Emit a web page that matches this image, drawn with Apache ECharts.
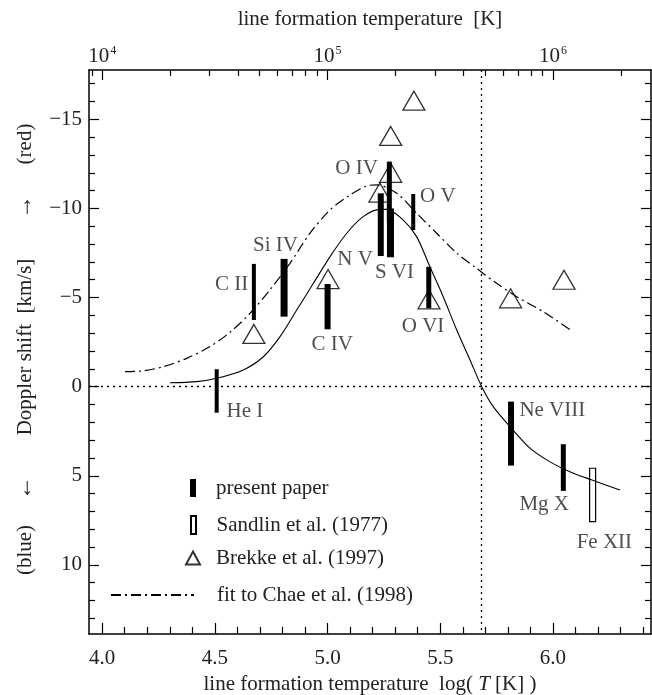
<!DOCTYPE html>
<html>
<head>
<meta charset="utf-8">
<script src="https://cdn.jsdelivr.net/npm/echarts@6/dist/echarts.min.js"></script>
<style>html,body{margin:0;padding:0;background:#fff}#main{width:652px;height:695px}</style>
</head>
<body>
<div id="main"></div>
<script>
// Doppler shift vs. line formation temperature
var chart = echarts.init(document.getElementById('main'));

// present paper (filled bars): log T, ends of the shift range [km/s]
var presentNames = ['He I', 'C II', 'Si IV', 'C IV', 'N V', 'O IV', 'S VI', 'O V', 'O VI', 'Ne VIII', 'Mg X'];
var presentLogT  = [4.508, 4.673, 4.807, 5.000, 5.236, 5.274, 5.279, 5.380, 5.449, 5.814, 6.046];
var presentTop   = [-0.98, -6.89, -7.17, -5.76, -10.85, -12.63, -10.0, -10.81, -6.73, 0.84, 3.23];
var presentBot   = [1.46, -3.74, -3.93, -3.22, -7.33, -9.2, -7.26, -8.79, -4.40, 4.43, 5.85];

// Sandlin et al. (1977), open bar
var sandlinNames = ['Fe XII'];
var sandlinLogT  = [6.176];
var sandlinTop   = [4.58];
var sandlinBot   = [7.57];

// Brekke et al. (1997), triangles
var brekkeLogT  = [4.673, 5.002, 5.232, 5.280, 5.280, 5.383, 5.450, 5.812, 6.049];
var brekkeShift = [-2.96, -6.04, -10.89, -12.0, -14.07, -16.05, -4.9, -4.96, -6.0];

// fit to Chae et al. (1998), dash-dot
var chaeLogT  = [4.101, 4.175, 4.271, 4.375, 4.478, 4.567, 4.656, 4.744, 4.833, 4.922, 5.011, 5.100, 5.173, 5.218, 5.307, 5.395, 5.484, 5.573, 5.661, 5.750, 5.839, 5.957, 6.083];
var chaeShift = [-0.84, -0.88, -1.12, -1.59, -2.25, -3.05, -4.12, -5.43, -6.92, -8.61, -9.92, -10.76, -11.26, -11.32, -10.85, -9.73, -8.61, -7.49, -6.64, -5.80, -5.05, -4.20, -3.14];

// solid curve through the present data
var fitLogT  = [4.301, 4.419, 4.508, 4.626, 4.715, 4.789, 4.863, 4.937, 5.011, 5.085, 5.158, 5.232, 5.262, 5.336, 5.395, 5.454, 5.513, 5.573, 5.632, 5.684, 5.735, 5.809, 5.898, 5.987, 6.075, 6.164, 6.297];
var fitShift = [-0.22, -0.28, -0.47, -0.94, -1.68, -2.81, -4.30, -5.80, -7.30, -8.61, -9.54, -9.95, -9.95, -9.35, -8.42, -6.73, -5.05, -3.18, -1.50, 0.0, 1.12, 2.24, 3.45, 4.22, 4.77, 5.20, 5.80];

// ion labels
var labelNames = ['O IV', 'O V', 'Si IV', 'C II', 'N V', 'S VI', 'C IV', 'O VI', 'He I', 'Ne VIII', 'Mg X', 'Fe XII'];
var labelLogT  = [5.223, 5.410, 4.669, 4.648, 5.201, 5.210, 4.929, 5.329, 4.552, 5.851, 5.851, 6.105];
var labelShift = [-12.27, -10.66, -7.95, -5.71, -7.11, -6.38, -2.34, -3.37, 1.40, 1.35, 6.64, 8.77];

// reference lines
var refLogT = [5.685];
var refShift = [0];

var xMajor = [4.0, 4.5, 5.0, 5.5, 6.0];
var topMajor = [4, 5, 6];
var yMajor = [-15, -10, -5, 0, 5, 10];

// styles
var presentWidth = [4, 4, 7, 6, 6, 5, 7, 4, 5, 6, 5];
var sandlinWidth = [6];
var labelSide = ['left', 'right', 'right', 'left', 'left', 'right', 'right', 'right', 'right', 'right', 'right', 'right'];

var XMIN = 3.9414, XMAX = 6.435, YMIN = -17.77, YMAX = 13.88;
var FONT = "'Liberation Serif', 'Times New Roman', serif";
var INK = '#222';
var FS = 21;

var xMinor = [];
for (var i = 40; i <= 64; i++) if (i % 5) xMinor.push(i / 10);
var topMinor = [];
for (var n = 3; n <= 6; n++) {
    for (var k = 2; k <= 9; k++) {
        var t = n + Math.log10(k);
        if (t > XMIN && t < XMAX) topMinor.push(t);
    }
}
var yMinor = [];
for (var j = -17; j <= 13; j++) if (j % 5) yMinor.push(j);

function zip3(a, b, c) {
    var res = [];
    for (var i = 0; i < a.length; i++) res.push([a[i], b[i], c[i]]);
    return res;
}
function zip2(a, b) {
    var res = [];
    for (var i = 0; i < a.length; i++) res.push([a[i], b[i]]);
    return res;
}

function barRender(widths) {
    return function (params, api) {
        var p1 = api.coord([api.value(0), api.value(1)]);
        var p2 = api.coord([api.value(0), api.value(2)]);
        var w = widths[params.dataIndex];
        return {
            type: 'rect',
            shape: { x: p1[0] - w / 2, y: Math.min(p1[1], p2[1]), width: w, height: Math.abs(p2[1] - p1[1]) },
            style: api.style()
        };
    };
}

var tickLine = { color: '#000', width: 1.2 };
var frameLine = { show: true, onZero: false, lineStyle: { color: '#000', width: 1.5 } };
var noLine = { show: false, onZero: false };

function axisX(pos, ticks, len, line, label) {
    return {
        type: 'value', position: pos, min: XMIN, max: XMAX,
        axisLine: line,
        axisTick: { show: true, inside: true, length: len, customValues: ticks, lineStyle: tickLine },
        axisLabel: label || { show: false },
        splitLine: { show: false }
    };
}
function axisY(pos, ticks, len, line, label) {
    return {
        type: 'value', position: pos, min: YMIN, max: YMAX, inverse: true,
        axisLine: line,
        axisTick: { show: true, inside: true, length: len, customValues: ticks, lineStyle: tickLine },
        axisLabel: label || { show: false },
        splitLine: { show: false }
    };
}

var bottomAxis = axisX('bottom', xMajor, 11, frameLine, {
    show: true, customValues: xMajor, margin: 14,
    fontSize: FS, fontFamily: FONT, color: INK,
    formatter: function (v) { return v.toFixed(1); }
});
bottomAxis.name = 'line formation temperature  log( {i|T} [K] )';
bottomAxis.nameLocation = 'middle';
bottomAxis.nameGap = 40;
bottomAxis.nameTextStyle = { fontSize: FS, fontFamily: FONT, color: INK, rich: { i: { fontSize: FS, fontFamily: FONT, fontStyle: 'italic', color: INK } } };

var topAxis = axisX('top', topMajor, 10, frameLine, {
    show: true, customValues: topMajor, margin: 3,
    fontSize: FS, fontFamily: FONT, color: INK,
    formatter: function (v) { return '10{sup|' + Math.round(v) + '}'; },
    rich: { sup: { fontSize: 12, fontFamily: FONT, color: INK, padding: [0, 0, 10, 1] } }
});
topAxis.name = 'line formation temperature  [K]';
topAxis.nameLocation = 'middle';
topAxis.nameGap = 40;
topAxis.nameTextStyle = { fontSize: FS, fontFamily: FONT, color: INK };

var leftAxis = axisY('left', yMajor, 10, frameLine, {
    show: true, customValues: yMajor, margin: 7,
    fontSize: FS, fontFamily: FONT, color: INK,
    formatter: function (v) { return v < 0 ? '\u2212' + (-v) : String(v); }
});

function yText(text, y, size) {
    return {
        type: 'text', x: 25, y: y, rotation: Math.PI / 2, silent: true,
        style: { text: text, font: (size || FS) + 'px ' + FONT, fill: INK, align: 'center', verticalAlign: 'middle', textAlign: 'center', textVerticalAlign: 'middle' }
    };
}

function oneLegend(name, icon, w, h, left, top) {
    return {
        data: [{ name: name, icon: icon }],
        orient: 'vertical', left: left, top: top, padding: 0,
        itemWidth: w, itemHeight: h, selectedMode: false,
        textStyle: { fontSize: FS, fontFamily: FONT, color: INK, lineHeight: 22 }
    };
}

var option = {
    animation: false,
    backgroundColor: '#fff',
    grid: { left: 89, right: 1, top: 70, bottom: 61, containLabel: false, outerBoundsMode: 'none' },
    xAxis: [
        bottomAxis,
        axisX('bottom', xMinor, 7, noLine),
        topAxis,
        axisX('top', topMinor, 6, noLine)
    ],
    yAxis: [
        leftAxis,
        axisY('left', yMinor, 6, noLine),
        axisY('right', yMajor, 10, frameLine),
        axisY('right', yMinor, 6, noLine)
    ],
    legend: [
        oneLegend('present paper', 'path://M0,0H6V18H0Z', 36, 18, 190, 477),
        oneLegend('Sandlin et al. (1977)', 'path://M0,0H5V18H0Z', 36, 18, 190, 514),
        oneLegend('Brekke et al. (1997)', 'path://M7,0L14,13L0,13Z', 36, 13, 185, 547),
        {
            data: [{ name: 'fit to Chae et al. (1998)' }],
            left: 110, top: 584, padding: 0, itemWidth: 83, itemHeight: 14, selectedMode: false,
            itemStyle: { opacity: 0 },
            textStyle: { fontSize: FS, fontFamily: FONT, color: INK, lineHeight: 22, padding: [0, 0, 0, 18] }
        }
    ],
    graphic: [
        yText('(blue)', 550),
        yText('\u2190', 488, 24),
        yText('Doppler shift  [km/s]', 347),
        yText('\u2192', 207, 24),
        yText('(red)', 144)
    ],
    series: [
        {
            name: 'ref', type: 'line', data: [], silent: true,
            markLine: {
                silent: true, symbol: 'none', label: { show: false },
                lineStyle: { color: '#000', width: 1.3, type: [2, 4] },
                data: refLogT.map(function (v) { return { xAxis: v }; })
                    .concat(refShift.map(function (v) { return { yAxis: v }; }))
            }
        },
        {
            name: 'fit to Chae et al. (1998)', type: 'line', silent: true,
            data: zip2(chaeLogT, chaeShift), symbol: 'none', smooth: 0.3,
            lineStyle: { color: '#000', width: 1.2, type: [10, 4, 2, 4] },
            itemStyle: { color: '#000' }
        },
        {
            name: 'fit', type: 'line', silent: true,
            data: zip2(fitLogT, fitShift), symbol: 'none', smooth: 0.3,
            lineStyle: { color: '#000', width: 1.1 }
        },
        {
            name: 'Brekke et al. (1997)', type: 'scatter', silent: true,
            data: zip2(brekkeLogT, brekkeShift),
            symbol: 'triangle', symbolSize: [22, 19],
            itemStyle: { color: 'rgba(255,255,255,0)', borderColor: '#000', borderWidth: 1.3 }
        },
        {
            name: 'present paper', type: 'custom', silent: true,
            renderItem: barRender(presentWidth),
            data: zip3(presentLogT, presentTop, presentBot),
            encode: { x: 0, y: [1, 2] },
            itemStyle: { color: '#000' }
        },
        {
            name: 'Sandlin et al. (1977)', type: 'custom', silent: true,
            renderItem: barRender(sandlinWidth),
            data: zip3(sandlinLogT, sandlinTop, sandlinBot),
            encode: { x: 0, y: [1, 2] },
            itemStyle: { color: '#fff', borderColor: '#000', borderWidth: 1.2 }
        },
        {
            name: 'labels', type: 'scatter', silent: true, symbolSize: 0,
            data: labelNames.map(function (nm, i) {
                return { name: nm, value: [labelLogT[i], labelShift[i]], label: { position: labelSide[i] } };
            }),
            label: { show: true, formatter: '{b}', distance: 0, fontSize: FS, fontFamily: FONT, color: INK }
        }
    ]
};

chart.setOption(option);
</script>
</body>
</html>
